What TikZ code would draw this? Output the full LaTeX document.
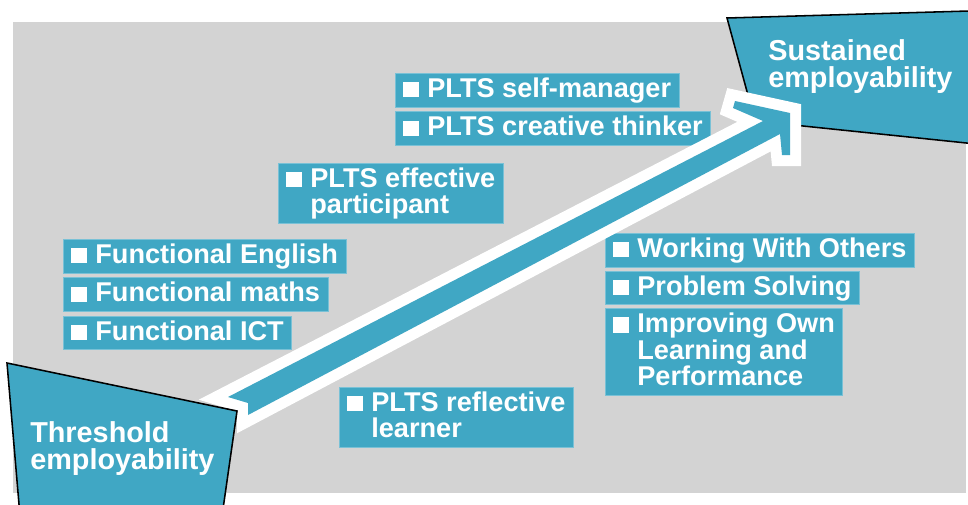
\documentclass[tikz,border=0pt]{standalone}
\usepackage{fontspec}
\setmainfont{Liberation Sans}
\usetikzlibrary{positioning}

\definecolor{boxteal}{RGB}{64,167,196}
\definecolor{bggray}{RGB}{211,211,211}

\newcommand{\sq}{\rule[-0.14cm]{0pt}{0.64cm}\rule{0.38cm}{0.38cm}\hspace{0.22cm}}
\newcommand{\ind}{\rule[-0.14cm]{0pt}{0.64cm}\hspace*{0.6cm}}

\begin{document}
\begin{tikzpicture}[
  lbl/.style={fill=boxteal, draw=boxteal!70!white, line width=0.5pt, text=white, anchor=north west, align=left, inner xsep=0.2cm, inner ysep=0.1cm, font=\bfseries\fontsize{19.3}{18.8}\selectfont},
  stage/.style={text=white, anchor=north west, align=left, inner sep=0pt, font=\bfseries\fontsize{20.5}{19.2}\selectfont},
  corner/.style={fill=boxteal, draw=black, line width=1.1pt, line join=miter}
]
\useasboundingbox (0,0) rectangle (24.2,12.6);
\begin{scope}
\clip (0,0) rectangle (24.2,12.6);
\fill[bggray] (0.325,0.275) rectangle (24.15,12.05);

\node[lbl] (slf) at (9.875,10.775) {\sq PLTS self-manager};
\node[lbl, below right=0.1cm and 0cm of slf.south west] (crt) {\sq PLTS creative thinker};
\node[lbl] (eff) at (6.95,8.525) {\sq PLTS effective\\\ind participant};
\node[lbl] (eng) at (1.575,6.625) {\sq Functional English};
\node[lbl, below right=0.1cm and 0cm of eng.south west] (mth) {\sq Functional maths};
\node[lbl, below right=0.1cm and 0cm of mth.south west] (ict) {\sq Functional ICT};
\node[lbl] (wwo) at (15.125,6.775) {\sq Working With Others};
\node[lbl, below right=0.08cm and 0cm of wwo.south west] (pbs) {\sq Problem Solving};
\node[lbl, below right=0.08cm and 0cm of pbs.south west] (iol) {\sq Improving Own\\\ind Learning and\\\ind Performance};
\node[lbl] (rfl) at (8.475,2.925) {\sq PLTS reflective\\\ind learner};

\draw[corner] (18.175,12.15) -- (24.4,12.33) -- (24.4,9.0) -- (18.875,9.575) -- cycle;

% big arrow with white rim
\path[fill=boxteal, preaction={draw=white, line width=0.55cm, line join=miter, miter limit=3}]
  (5.7,2.675) -- (6.2,2.525) -- (6.2,2.225) -- (19.5,9.25) -- (19.55,8.725) -- (19.75,8.725)
  -- (19.75,9.775) -- (18.375,10.075) -- (18.325,9.9) -- (19.075,9.575) -- cycle;

\draw[corner] (0.175,3.525) -- (5.925,2.325) -- (5.55,-0.3) -- (0.5,-0.3) -- cycle;
\end{scope}

\node[stage] (thr) at (0.75,2.075) {Threshold\\employability};
\node[stage] (sus) at (19.2,11.625) {Sustained\\employability};

\end{tikzpicture}
\end{document}
